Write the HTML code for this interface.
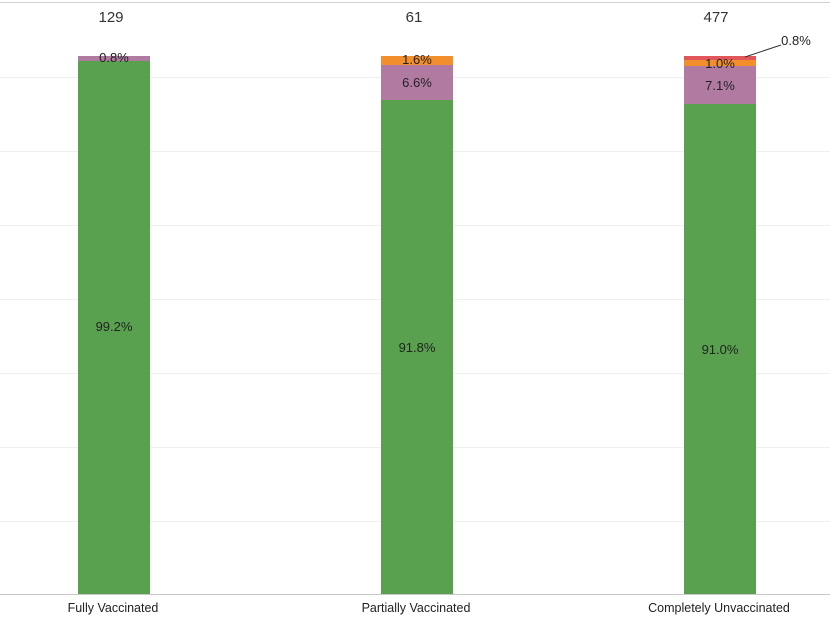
<!DOCTYPE html><html><head><style>body{margin:0;background:#fff;width:830px;height:622px;overflow:hidden;font-family:"Liberation Sans",sans-serif}</style></head><body>
<svg width="830" height="622" xmlns="http://www.w3.org/2000/svg" font-family="Liberation Sans, sans-serif">
<line x1="0" y1="2.5" x2="830" y2="2.5" stroke="#d0d0d0"/>
<g stroke="#efefef"><line x1="0" y1="77.5" x2="830" y2="77.5"/><line x1="0" y1="151.5" x2="830" y2="151.5"/><line x1="0" y1="225.5" x2="830" y2="225.5"/><line x1="0" y1="299.5" x2="830" y2="299.5"/><line x1="0" y1="373.5" x2="830" y2="373.5"/><line x1="0" y1="447.5" x2="830" y2="447.5"/><line x1="0" y1="521.5" x2="830" y2="521.5"/></g>
<line x1="0" y1="594.5" x2="830" y2="594.5" stroke="#c8c8c8"/>
<rect x="78" y="56" width="72" height="5" fill="#b07aa1"/><rect x="78" y="61" width="72" height="533" fill="#59a14f"/>
<rect x="381" y="56" width="72" height="9" fill="#f28e2b"/><rect x="381" y="65" width="72" height="35" fill="#b07aa1"/><rect x="381" y="100" width="72" height="494" fill="#59a14f"/>
<rect x="684" y="56" width="72" height="4" fill="#e15759"/><rect x="684" y="60" width="72" height="6" fill="#f28e2b"/><rect x="684" y="66" width="72" height="38" fill="#b07aa1"/><rect x="684" y="104" width="72" height="490" fill="#59a14f"/>
<g font-size="15" fill="#333" text-anchor="middle"><text x="111" y="22">129</text><text x="414" y="22">61</text><text x="716" y="22">477</text></g>
<g font-size="13" fill="#222" text-anchor="middle"><text x="114" y="62">0.8%</text><text x="114" y="331">99.2%</text>
<text x="417" y="64">1.6%</text><text x="417" y="87">6.6%</text><text x="417" y="352">91.8%</text>
<text x="720" y="68">1.0%</text><text x="720" y="90">7.1%</text><text x="720" y="354">91.0%</text>
<text x="796" y="45">0.8%</text></g>
<line x1="745" y1="57" x2="781" y2="45" stroke="#333"/>
<g font-size="12.5" fill="#222" text-anchor="middle"><text x="113" y="612">Fully Vaccinated</text><text x="416" y="612">Partially Vaccinated</text><text x="719" y="612">Completely Unvaccinated</text></g>
</svg></body></html>
